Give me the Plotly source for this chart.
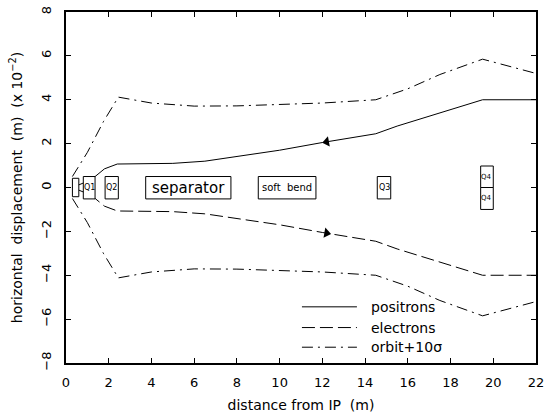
import plotly.graph_objects as go

# ---- data ----
pos_x = [0.3, 0.8, 1.3, 1.8, 2.4, 3.5, 5.0, 6.5, 8.0, 10.0, 12.0, 13.5, 14.5, 15.5, 17.5, 19.5, 22.0]
pos_y = [0.0, 0.2, 0.45, 0.85, 1.07, 1.07, 1.1, 1.2, 1.4, 1.7, 2.05, 2.28, 2.45, 2.8, 3.4, 4.0, 4.0]
ele_x = pos_x
ele_y = [-v for v in pos_y]

orb_x = [0.3, 1.0, 1.75, 2.45, 4.0, 6.0, 8.0, 10.0, 12.0, 14.5, 16.0, 17.5, 19.5, 22.0]
orb_up = [0.5, 1.6, 3.0, 4.12, 3.85, 3.71, 3.72, 3.78, 3.85, 4.0, 4.5, 5.15, 5.85, 5.2]
orb_lo = [-v for v in orb_up]

arrow_x = [12.2, 12.2]
arrow_y = [2.08, -2.08]

# elements: (name, x0, x1, y0, y1, label font size)
elem_names = ["", "Q1", "Q2", "separator", "soft  bend", "Q3", "Q4", "Q4"]
elem_x0 = [0.3, 0.81, 1.83, 3.73, 9.0, 14.57, 19.41, 19.41]
elem_x1 = [0.6, 1.36, 2.45, 7.72, 11.7, 15.2, 20.0, 20.0]
elem_y0 = [-0.42, -0.52, -0.52, -0.52, -0.52, -0.52, 0.0, -1.0]
elem_y1 = [0.42, 0.5, 0.5, 0.5, 0.5, 0.5, 0.98, 0.0]
elem_fs = [8, 8, 8, 15, 10, 8, 7, 7]

legend_names = ["positrons", "electrons", "orbit+10σ"]
legend_dash = ["solid", "13px,5px", "11px,5px,2px,5px"]

x_ticks = list(range(0, 23, 2))
y_ticks = list(range(-8, 9, 2))

FONT = "DejaVu Sans"

fig = go.Figure()
line_style = dict(color="black", width=1)
fig.add_trace(go.Scatter(x=pos_x, y=pos_y, mode="lines", line=dict(**line_style, dash=legend_dash[0]), showlegend=False))
fig.add_trace(go.Scatter(x=ele_x, y=ele_y, mode="lines", line=dict(**line_style, dash=legend_dash[1]), showlegend=False))
fig.add_trace(go.Scatter(x=orb_x, y=orb_up, mode="lines", line=dict(**line_style, dash=legend_dash[2]), showlegend=False))
fig.add_trace(go.Scatter(x=orb_x, y=orb_lo, mode="lines", line=dict(**line_style, dash=legend_dash[2]), showlegend=False))
fig.add_trace(go.Scatter(x=arrow_x, y=arrow_y, mode="markers",
                         marker=dict(symbol=["triangle-left", "triangle-right"], angle=[-10, 10],
                                     size=9, color="black"),
                         showlegend=False))

for n, x0, x1, y0, y1, fs in zip(elem_names, elem_x0, elem_x1, elem_y0, elem_y1, elem_fs):
    fig.add_shape(type="rect", xref="x", yref="y", x0=x0, x1=x1, y0=y0, y1=y1,
                  line=dict(color="black", width=1), fillcolor="white", layer="above")
    if n:
        fig.add_annotation(x=(x0 + x1) / 2, y=(y0 + y1) / 2, text=n, showarrow=False,
                           font=dict(family=FONT, size=fs, color="black"))

# manual legend
leg_y = [0.160, 0.101, 0.045]
for name, dash, yy in zip(legend_names, legend_dash, leg_y):
    fig.add_shape(type="line", xref="paper", yref="paper", x0=0.502, x1=0.619, y0=yy, y1=yy,
                  line=dict(color="black", width=1, dash=dash))
    fig.add_annotation(xref="paper", yref="paper", x=0.645, y=yy, text=name, showarrow=False,
                       xanchor="left", yanchor="middle", font=dict(family=FONT, size=14, color="black"))

axis_common = dict(showline=True, linecolor="black", linewidth=2, mirror="ticks",
                   ticks="inside", ticklen=5, tickcolor="black", tickwidth=1,
                   showgrid=False, zeroline=False,
                   tickfont=dict(family=FONT, size=13, color="black"))

fig.update_xaxes(range=[0, 22], tickvals=x_ticks, ticktext=[str(v) for v in x_ticks],
                 ticklabelstandoff=6,
                 title=dict(text="distance from IP  (m)", font=dict(family=FONT, size=14, color="black"), standoff=12),
                 **axis_common)
fig.update_yaxes(range=[-8, 8], tickvals=y_ticks, ticktext=["−" + str(-v) if v < 0 else str(v) for v in y_ticks],
                 tickangle=-90, ticklabelstandoff=8,
                 title=dict(text="horizontal  displacement  (m)  (x 10<sup>−2</sup>)",
                            font=dict(family=FONT, size=14, color="black"), standoff=13),
                 **axis_common)

fig.update_layout(width=552, height=418, margin=dict(l=66, r=16, t=6, b=55),
                  plot_bgcolor="white", paper_bgcolor="white", showlegend=False)

fig.write_html("out.html", config={"displayModeBar": False},
               post_script="document.body.style.margin='0';document.body.style.padding='0';")
